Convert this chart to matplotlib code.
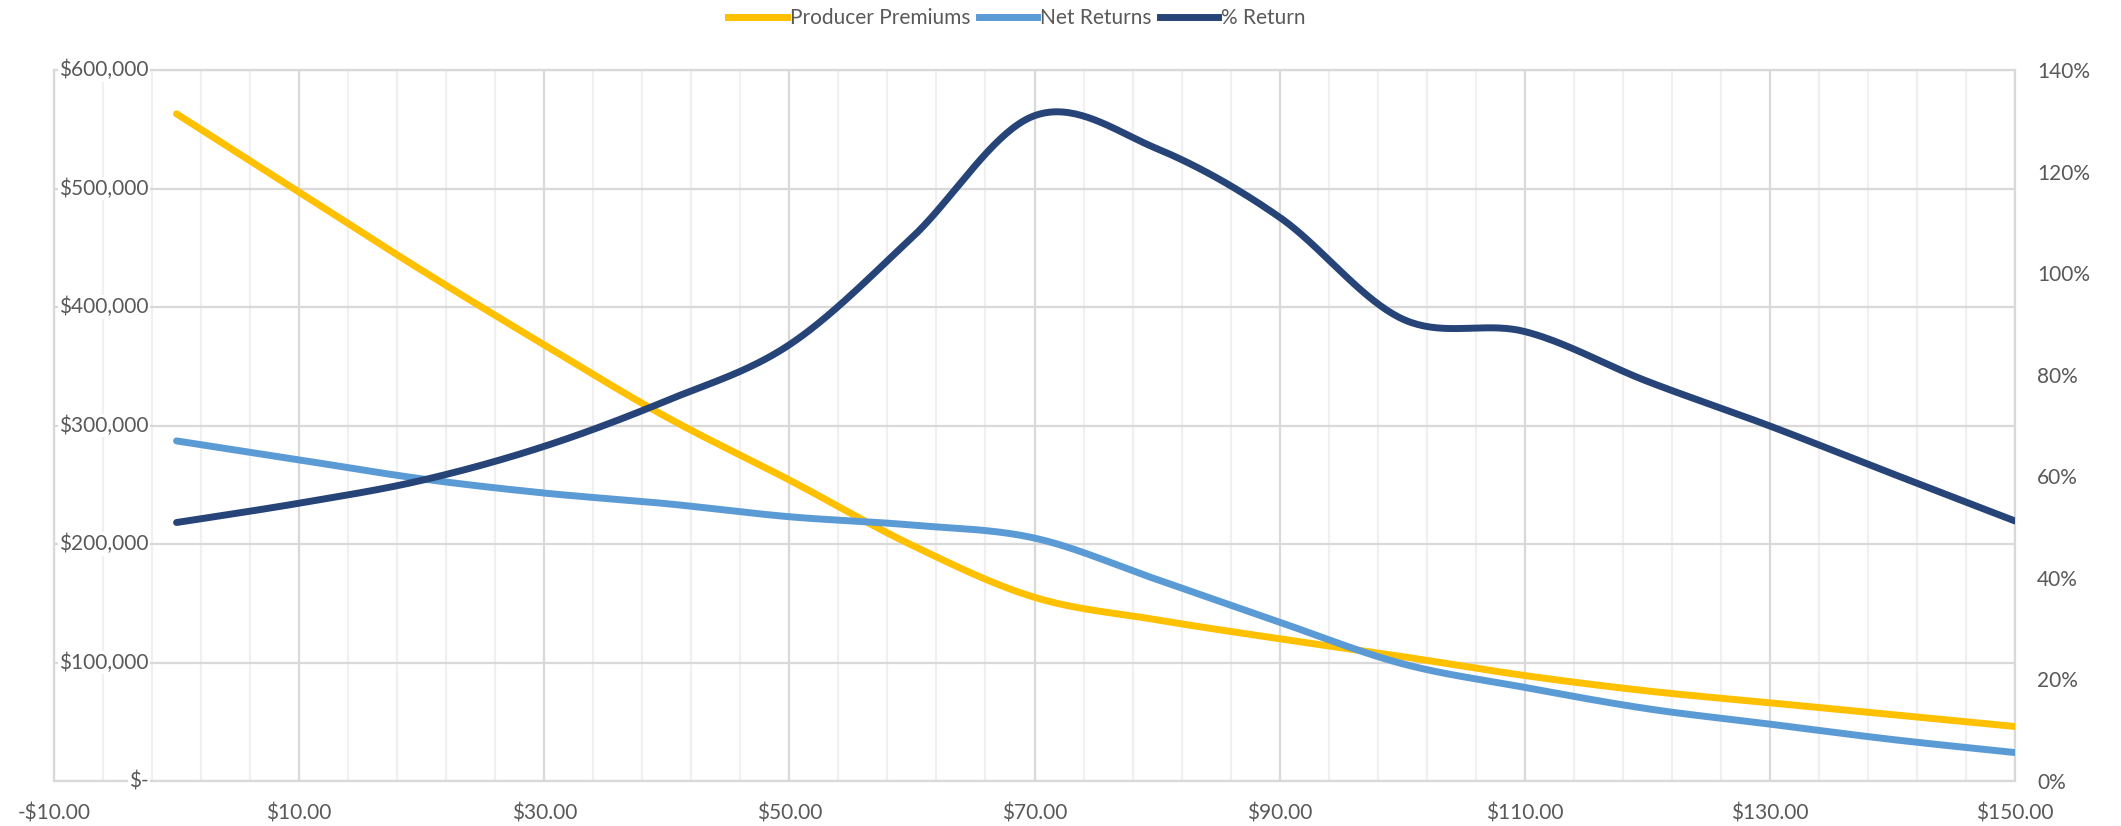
import numpy as np
import matplotlib
matplotlib.use("Agg")
import matplotlib.pyplot as plt
from matplotlib.ticker import FixedLocator, FuncFormatter, MultipleLocator, NullFormatter
from matplotlib.transforms import ScaledTranslation, blended_transform_factory
from matplotlib.lines import Line2D

# Price points ($) and results per price
prices = [0, 10, 20, 30, 40, 50, 60, 70, 80, 90, 100, 110, 120, 130, 140, 150]
producer_premiums = [563000, 497000, 431000, 368000, 307000, 254000, 199000, 155000,
                     136000, 120000, 105000, 89000, 76000, 66000, 56000, 46000]
net_returns = [287000, 271000, 255000, 243000, 234000, 223000, 216000, 205000,
               170000, 134000, 99000, 79000, 61000, 48000, 35000, 24000]
pct_return = [0.509, 0.547, 0.592, 0.659, 0.749, 0.859, 1.07, 1.31,
              1.245, 1.11, 0.91, 0.885, 0.787, 0.699, 0.605, 0.512]

series_names = ["Producer Premiums", "Net Returns", "% Return"]
series_colors = ["#FFC000", "#5B9BD5", "#264478"]
dollar_ticks = [0, 100000, 200000, 300000, 400000, 500000, 600000]

TEXT = "#595959"
FONT = "Lato"
FS = 15


def smooth_curve(xs, ys, steps=40):
    """Catmull-Rom style cubic Bezier smoothing through every data point."""
    P = np.column_stack([np.asarray(xs, float), np.asarray(ys, float)])
    n = len(P)
    out = []
    t = np.linspace(0, 1, steps)[:, None]
    for i in range(n - 1):
        p0 = P[i - 1] if i > 0 else P[i]
        p1 = P[i]
        p2 = P[i + 1]
        p3 = P[i + 2] if i + 2 < n else P[i + 1]
        c1 = p1 + (p2 - p0) / 6.0
        c2 = p2 - (p3 - p1) / 6.0
        seg = ((1 - t) ** 3) * p1 + 3 * ((1 - t) ** 2) * t * c1 + 3 * (1 - t) * t ** 2 * c2 + t ** 3 * p2
        out.append(seg if i == 0 else seg[1:])
    seg = np.vstack(out)
    return seg[:, 0], seg[:, 1]


def money_fmt(v, pos=None):
    if v == 0:
        return "$-"
    return "${:,.0f}".format(v)


def price_fmt(v, pos=None):
    return ("-$" if v < 0 else "$") + "{:,.2f}".format(abs(v))


W, H = 2121, 826
fig = plt.figure(figsize=(W / 100, H / 100), dpi=100)
left, right, top, bottom = 54, 2015, 70, 781
ax = fig.add_axes([left / W, 1 - bottom / H, (right - left) / W, (bottom - top) / H])
ax2 = ax.twinx()

# Primary axis: dollars
ax.set_xlim(-10, 150)
ax.set_ylim(0, 600000)
ax.xaxis.set_major_locator(FixedLocator(np.arange(-10, 151, 20)))
ax.xaxis.set_minor_locator(FixedLocator([v for v in np.arange(-10, 151, 4) if (v + 10) % 20 != 0]))
ax.yaxis.set_major_locator(FixedLocator(dollar_ticks))
ax.set_axisbelow(True)

ax.grid(True, which="major", axis="both", color="#D9D9D9", linewidth=1.6)
ax.grid(True, which="minor", axis="x", color="#F0F0F0", linewidth=1.6)
for sp in ax.spines.values():
    sp.set_color("#D9D9D9")
    sp.set_linewidth(1.6)
for sp in ax2.spines.values():
    sp.set_visible(False)

ax.yaxis.set_major_formatter(NullFormatter())
ax.xaxis.set_major_formatter(FuncFormatter(price_fmt))
ax.tick_params(axis="both", which="both", length=0, labelsize=FS, labelcolor=TEXT)
ax.tick_params(axis="x", pad=16)

# Secondary axis: percent
ax2.set_ylim(0, 1.4)
ax2.yaxis.set_major_locator(MultipleLocator(0.2))
ax2.yaxis.set_major_formatter(FuncFormatter(lambda v, p: "{:.0f}%".format(v * 100)))
ax2.tick_params(axis="y", length=0, labelsize=FS, labelcolor=TEXT, pad=16)

for lab in ax.get_xticklabels() + ax2.get_yticklabels():
    lab.set_fontfamily(FONT)

# Dollar labels sit inside the plot area, just left of the $0 price line
trans = blended_transform_factory(ax.transAxes, ax.transData) + \
    ScaledTranslation(0.95, 0, fig.dpi_scale_trans)
for v in dollar_ticks:
    ax.text(0, v, money_fmt(v), transform=trans, ha="right", va="center",
            fontsize=FS, family=FONT, color=TEXT, zorder=6, clip_on=False,
            bbox=dict(facecolor="white", edgecolor="none", pad=1.0))

lw = 5.0
xs, ys = smooth_curve(prices, producer_premiums)
ax.plot(xs, ys, color=series_colors[0], lw=lw, solid_capstyle="round", zorder=3)
xs, ys = smooth_curve(prices, net_returns)
ax.plot(xs, ys, color=series_colors[1], lw=lw, solid_capstyle="round", zorder=3)
xs, ys = smooth_curve(prices, pct_return)
ax2.plot(xs, ys, color=series_colors[2], lw=lw, solid_capstyle="round", zorder=4)

handles = [Line2D([0], [0], color=c, lw=lw) for c in series_colors]
fig.legend(handles, series_names, loc="center", bbox_to_anchor=(1017 / W, 1 - 18 / H),
           ncol=3, frameon=False, handlelength=2.8, handletextpad=0.15, columnspacing=0.4,
           prop={"family": FONT, "size": FS}, labelcolor=TEXT)

fig.savefig("out.png", dpi=100, facecolor="white")
